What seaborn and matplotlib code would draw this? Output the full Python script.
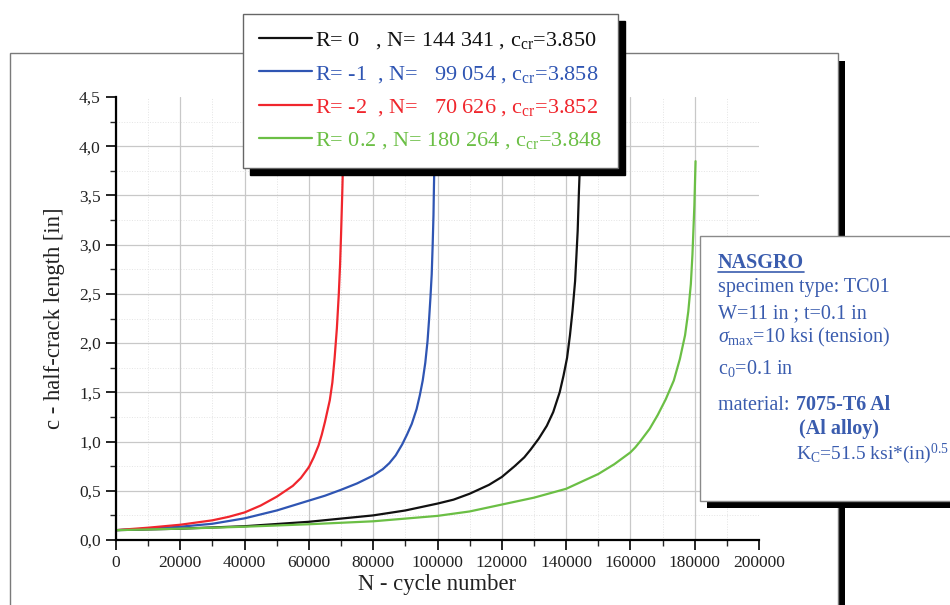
import numpy as np
import pandas as pd
import matplotlib
matplotlib.use("Agg")
import matplotlib.pyplot as plt
import seaborn as sns
from matplotlib.patches import Rectangle
from matplotlib.lines import Line2D
from matplotlib.ticker import MultipleLocator

# curve data: N (cycles) and c (half-crack length, in)
n_r0 = [0, 20000, 40000, 60000, 80000, 90000, 100000, 105000, 110000, 116000,
        120000, 124000, 127000, 129000, 131500, 134000, 136000, 138000, 139200,
        140300, 141200, 142000, 142800, 143200, 143600, 144000, 144341]
c_r0 = [0.10, 0.115, 0.14, 0.185, 0.25, 0.30, 0.37, 0.41, 0.47, 0.56,
        0.64, 0.75, 0.84, 0.92, 1.03, 1.16, 1.30, 1.50, 1.67,
        1.85, 2.08, 2.33, 2.63, 2.88, 3.14, 3.55, 3.850]

n_rm1 = [0, 10000, 20000, 30000, 40000, 50000, 60000, 65000, 70000, 75000,
         80000, 83000, 85000, 87000, 89000, 90500, 92000, 93500, 94500, 95400,
         96200, 96900, 97400, 97800, 98200, 98500, 98750, 98900, 99054]
c_rm1 = [0.10, 0.115, 0.135, 0.165, 0.22, 0.30, 0.40, 0.45, 0.51, 0.575,
         0.655, 0.72, 0.78, 0.86, 0.97, 1.07, 1.18, 1.33, 1.47, 1.62,
         1.80, 2.02, 2.25, 2.46, 2.70, 3.0, 3.3, 3.6, 3.858]

n_rm2 = [0, 10000, 20000, 30000, 35000, 40000, 45000, 50000, 55000, 57500,
         60000, 61500, 63000, 64000, 65000, 66500, 67300, 68000, 68700, 69300,
         69700, 70000, 70400, 70626]
c_rm2 = [0.10, 0.125, 0.155, 0.20, 0.235, 0.28, 0.35, 0.44, 0.55, 0.63,
         0.74, 0.84, 0.96, 1.07, 1.2, 1.42, 1.6, 1.85, 2.15, 2.5,
         2.8, 3.1, 3.55, 3.852]

n_r02 = [0, 20000, 40000, 60000, 80000, 100000, 110000, 120000, 130000, 140000,
         150000, 155000, 157500, 160000, 161500, 163000, 166000, 168500, 171000,
         173500, 175400, 177000, 178000, 178800, 179300, 179600, 179900, 180264]
c_r02 = [0.10, 0.115, 0.135, 0.16, 0.19, 0.245, 0.29, 0.36, 0.43, 0.52,
         0.67, 0.77, 0.83, 0.89, 0.94, 1.0, 1.13, 1.27, 1.43,
         1.62, 1.84, 2.08, 2.32, 2.6, 2.9, 3.15, 3.4, 3.848]

labels = [r"R= 0   , N= 144 341 , c$_\mathrm{cr}$=3.850",
          r"R= -1  , N=   99 054 , c$_\mathrm{cr}$=3.858",
          r"R= -2  , N=   70 626 , c$_\mathrm{cr}$=3.852",
          r"R= 0.2 , N= 180 264 , c$_\mathrm{cr}$=3.848"]
colors = ["#111111", "#2f55b3", "#f0262d", "#6bbf45"]

x_ticks = [0, 20000, 40000, 60000, 80000, 100000, 120000, 140000, 160000, 180000, 200000]
x_ticklabels = ["0", "20000", "40000", "60000", "80000", "100000", "120000",
                "140000", "160000", "180000", "200000"]
y_ticks = [0.0, 0.5, 1.0, 1.5, 2.0, 2.5, 3.0, 3.5, 4.0, 4.5]
y_ticklabels = ["0,0", "0,5", "1,0", "1,5", "2,0", "2,5", "3,0", "3,5", "4,0", "4,5"]

sns.set_style("white")
plt.rcParams["font.family"] = ["Liberation Serif", "DejaVu Serif"]
plt.rcParams["mathtext.fontset"] = "custom"
plt.rcParams["mathtext.rm"] = "Liberation Serif"
plt.rcParams["mathtext.it"] = "Liberation Serif:italic"
plt.rcParams["mathtext.bf"] = "Liberation Serif:bold"

W, H = 950, 605
fig = plt.figure(figsize=(9.5, 6.05), dpi=100)
fig.patch.set_facecolor("white")


def fx(px):
    return px / W


def fy(py):
    return 1 - py / H


# outer frame with black shadow on the right
fig.add_artist(Rectangle((fx(838), fy(640)), fx(845) - fx(838), fy(61) - fy(640),
                         transform=fig.transFigure, facecolor="black",
                         edgecolor="none", zorder=-2))
fig.add_artist(Rectangle((fx(10), fy(640)), fx(838) - fx(10), fy(53) - fy(640),
                         transform=fig.transFigure, facecolor="white",
                         edgecolor="#7a7a7a", lw=1.0, zorder=-1))

ax = fig.add_axes([fx(116), fy(540), fx(759) - fx(116), fy(97) - fy(540)])
ax.set_facecolor("none")

series = [(n_r0, c_r0), (n_rm1, c_rm1), (n_rm2, c_rm2), (n_r02, c_r02)]
for (n, c), lab, col in zip(series, labels, colors):
    sns.lineplot(x=n, y=c, ax=ax, color=col, lw=1.6, label=lab,
                 estimator=None, sort=False)

ax.set_xlim(0, 200000)
ax.set_ylim(0, 4.5)
ax.set_xticks(x_ticks)
ax.set_xticklabels(x_ticklabels)
ax.set_yticks(y_ticks)
ax.set_yticklabels(y_ticklabels)
ax.xaxis.set_minor_locator(MultipleLocator(10000))
ax.yaxis.set_minor_locator(MultipleLocator(0.25))

for s in ["top", "right"]:
    ax.spines[s].set_visible(False)
for s in ["left", "bottom"]:
    ax.spines[s].set_color("black")
    ax.spines[s].set_linewidth(1.6)

ax.tick_params(which="major", direction="out", length=7, width=1.2,
               labelsize=12.5, pad=4, colors="black", left=True, bottom=True)
ax.tick_params(which="minor", direction="out", length=4, width=1.0,
               left=True, bottom=True)
for lbl in ax.get_xticklabels() + ax.get_yticklabels():
    lbl.set_color("#222222")

ax.grid(which="major", color="#c8c8c8", lw=0.9, ls="-")
ax.grid(which="minor", color="#e4e4e4", lw=0.7, ls=":")
ax.xaxis.get_major_ticks()[-1].gridline.set_visible(False)
ax.yaxis.get_major_ticks()[-1].gridline.set_visible(False)
ax.set_axisbelow(True)

ax.set_xlabel("N - cycle number", fontsize=16.3, labelpad=2, color="#222222")
ax.set_ylabel("c - half-crack length [in]", fontsize=16.3, labelpad=10,
              color="#222222")

leg = ax.legend(loc="upper left", bbox_to_anchor=(fx(243), fy(14)),
                bbox_transform=fig.transFigure, fontsize=16,
                handlelength=2.35, handletextpad=0.14, labelspacing=0.55,
                borderpad=0.74, borderaxespad=0, fancybox=False,
                framealpha=1, edgecolor="#666666", labelcolor="linecolor",
                shadow={"ox": 5, "oy": -5, "color": "black", "alpha": 1})
leg.get_frame().set_linewidth(1.0)
leg.set_zorder(10)

# parameter box on the right
blue = "#3a5cae"
fig.add_artist(Rectangle((fx(707), fy(508)), fx(960) - fx(707), fy(242) - fy(508),
                         transform=fig.transFigure, facecolor="black",
                         edgecolor="none", zorder=5))
fig.add_artist(Rectangle((fx(700), fy(501)), fx(960) - fx(700), fy(236) - fy(501),
                         transform=fig.transFigure, facecolor="white",
                         edgecolor="#8a8a8a", lw=1.0, zorder=6))

tx = fx(718)
tk = dict(fontsize=14.5, color=blue, va="baseline", ha="left", zorder=7)
fig.text(tx, fy(268), "NASGRO", fontweight="bold", **tk)
fig.add_artist(Line2D([fx(718), fx(804)], [fy(271.5), fy(271.5)],
                      transform=fig.transFigure, color=blue, lw=1.2, zorder=7))
fig.text(tx, fy(292), "specimen type: TC01", **tk)
fig.text(tx, fy(318), "W=11 in ; t=0.1 in", **tk)
fig.text(tx, fy(342), r"$\sigma_\mathrm{max}$=10 ksi (tension)", **tk)
fig.text(tx, fy(374), r"c$_0$=0.1 in", **tk)
fig.text(tx, fy(410), "material: ", **tk)
fig.text(fx(796), fy(410), "7075-T6 Al", fontweight="bold", **tk)
fig.text(fx(799), fy(434), "(Al alloy)", fontweight="bold", **tk)
fig.text(fx(796), fy(459), r"K$_\mathrm{C}$=51.5 ksi*(in)$^{0.5}$",
         fontsize=14, color=blue, va="baseline", ha="left", zorder=7)

fig.savefig("out.png", dpi=100, facecolor="white")
